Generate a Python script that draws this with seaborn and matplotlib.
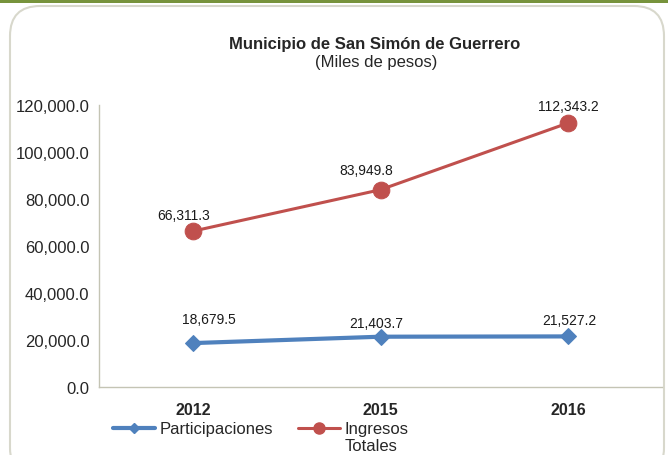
import matplotlib.pyplot as plt
import seaborn as sns
import pandas as pd
from matplotlib.patches import FancyBboxPatch, Rectangle
from matplotlib.lines import Line2D

years = ['2012', '2015', '2016']
participaciones = [18679.5, 21403.7, 21527.2]
ingresos_totales = [66311.3, 83949.8, 112343.2]
series_names = ['Participaciones', 'Ingresos\nTotales']

blue = '#4F81BD'
red = '#C0504D'
axis_gray = '#C4C4B4'

# label offsets in pixels (labels were hand-placed in the original)
part_offsets = [(16, 24), (-4, 14), (1, 16)]
ingr_offsets = [(-9, 16), (-14, 20), (0, 17)]

df = pd.DataFrame({
    'year': years * 2,
    'value': participaciones + ingresos_totales,
    'serie': [series_names[0]] * 3 + [series_names[1]] * 3,
})

sns.set_style('white')
plt.rcParams['font.family'] = ['Liberation Sans', 'DejaVu Sans']

fig = plt.figure(figsize=(6.68, 4.56), dpi=100)

# green band and rounded frame (behind the axes)
fig.patches.append(Rectangle((0, 1 - 4 / 456), 1, 4 / 456, transform=fig.transFigure,
                             facecolor='#77933C', edgecolor='none', zorder=-2))
fig.patches.append(FancyBboxPatch((10 / 668, -0.05), 654 / 668, 1 - 7 / 456 + 0.05,
                                  boxstyle='round,pad=0,rounding_size=0.045',
                                  transform=fig.transFigure, facecolor='white',
                                  edgecolor='#D8D8CC', linewidth=1.5,
                                  mutation_aspect=668 / 456, zorder=-2))

ax = fig.add_axes([99 / 668, 1 - 388 / 456, 563 / 668, 282 / 456])
ax.patch.set_alpha(0)

x_pos = {y: i for i, y in enumerate(years)}
df['x'] = df['year'].map(x_pos)

sns.lineplot(data=df[df['serie'] == series_names[0]], x='x', y='value', ax=ax,
             color=blue, linewidth=3, marker='D', markersize=8.5,
             markeredgecolor=blue, legend=False)
sns.lineplot(data=df[df['serie'] == series_names[1]], x='x', y='value', ax=ax,
             color=red, linewidth=2.2, marker='o', markersize=12,
             markeredgecolor=red, legend=False)

for i, v in enumerate(participaciones):
    ax.annotate(f'{v:,.1f}', (i, v), xytext=part_offsets[i], textcoords='offset pixels',
                ha='center', va='center', fontsize=10, color='#1A1A1A')
for i, v in enumerate(ingresos_totales):
    ax.annotate(f'{v:,.1f}', (i, v), xytext=ingr_offsets[i], textcoords='offset pixels',
                ha='center', va='center', fontsize=10, color='#1A1A1A')

ax.set_xlim(-0.5, 2.5)
ax.set_ylim(0, 120000)
ax.set_yticks(range(0, 120001, 20000))
ax.set_yticklabels([f'{t:,.1f}' for t in range(0, 120001, 20000)], fontsize=12)
ax.set_xticks(range(3))
ax.set_xticklabels(years, fontsize=11.5, fontweight='bold')
ax.set_xticks([0.5, 1.5], minor=True)
ax.tick_params(axis='x', which='major', length=0, pad=11)
ax.tick_params(axis='x', which='minor', length=4, color=axis_gray, direction='in')
ax.tick_params(axis='y', length=4, color=axis_gray, direction='out', pad=3)
ax.set_xlabel('')
ax.set_ylabel('')
ax.grid(False)
for s in ['top', 'right']:
    ax.spines[s].set_visible(False)
for s in ['left', 'bottom']:
    ax.spines[s].set_color(axis_gray)
    ax.spines[s].set_linewidth(1)

fig.text(375 / 668, 1 - 45 / 456, 'Municipio de San Simón de Guerrero',
         ha='center', va='center', fontsize=12, fontweight='bold')
fig.text(376 / 668, 1 - 62 / 456, '(Miles de pesos)', ha='center', va='center', fontsize=12)

# legend: first line of each label in the legend, second line of the wrapped one below
handles = [Line2D([], [], color=blue, linewidth=3, marker='D', markersize=5.5),
           Line2D([], [], color=red, linewidth=2.2, marker='o', markersize=8)]
first_lines = [n.split('\n')[0] for n in series_names]
leg = fig.legend(handles, first_lines, loc='center left',
                 bbox_to_anchor=(113 / 668, 1 - 430 / 456),
                 ncol=2, frameon=False, fontsize=12, handlelength=2.5, handletextpad=0.3,
                 columnspacing=1.5, borderpad=0, borderaxespad=0)
fig.canvas.draw()
t2 = leg.get_texts()[1]
bb = t2.get_window_extent().transformed(fig.transFigure.inverted())
fig.text(bb.x0, bb.y0 - 0.003, series_names[1].split('\n')[1], ha='left', va='top', fontsize=12)

fig.savefig('out.png', dpi=100)
